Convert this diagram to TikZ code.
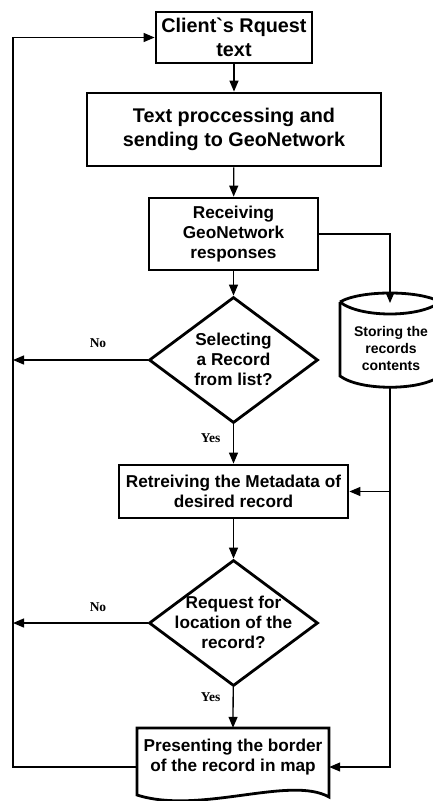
\documentclass[tikz,border=0pt]{standalone}
\usepackage{fontspec}
\newfontfamily\arialfont{Liberation Sans}
\newfontfamily\tmsfont{Liberation Serif}
\usetikzlibrary{shapes.geometric,arrows.meta}
\begin{document}
\begin{tikzpicture}[x=1pt,y=-1pt,
  bord/.style={line width=2.8pt, line join=miter},
  box/.style={draw, bord, inner sep=0pt, align=center, font=\arialfont\bfseries\fontsize{17.2}{20}\selectfont},
  bigbox/.style={box, font=\arialfont\bfseries\fontsize{19.8}{24}\selectfont},
  dia/.style={draw, bord, shape=diamond, inner sep=0pt, minimum width=169pt, minimum height=126pt},
  txt/.style={inner sep=0pt, align=center, font=\arialfont\bfseries\fontsize{17.2}{20}\selectfont},
  smalltxt/.style={inner sep=0pt, align=center, font=\arialfont\bfseries\fontsize{14}{17}\selectfont},
  lab/.style={inner sep=0pt, font=\tmsfont\bfseries\fontsize{13.5}{15}\selectfont},
  conn/.style={line width=1.3pt, -{Triangle[length=11pt,width=9pt]}}
]
\useasboundingbox (0,0) rectangle (432,801);

% nodes
\node[bigbox, minimum width=156pt, minimum height=51pt] (b1) at (234,37.5) {Client`s Rquest\\text};
\node[bigbox, minimum width=294pt, minimum height=73pt] (b2) at (234,129.5) {Text proccessing and\\sending to GeoNetwork};
\node[box, minimum width=169pt, minimum height=72pt] (b3) at (233.5,234) {Receiving\\GeoNetwork\\responses};
\node[dia] (d1) at (233.5,360) {};
\node[txt] (d1t) at (233.5,359) {Selecting\\a Record\\from list?};
\node[box, minimum width=229pt, minimum height=53pt] (b4) at (233.5,491.5) {Retreiving the Metadata of\\desired record};
\node[dia] (d2) at (233.5,623) {};
\node[txt] (d2t) at (233.5,622) {Request for\\location of the\\record?};
\node[inner sep=0pt, minimum width=192pt, minimum height=58pt] (doc) at (233,757) {};
\node[txt] (doct) at (233,757) {Presenting the border\\of the record in map};

% document shape outline
\draw[bord] (137,728) -- (329,728) -- (329,797) .. controls (290,775) and (200,815) .. (137,795) -- cycle;

% cylinder (store)
\node[inner sep=0pt, minimum width=100pt, minimum height=94pt] (store) at (390,340) {};
\draw[bord] (340,302) .. controls (360,290) and (420,290) .. (440,302);
\draw[bord] (340,302) .. controls (360,318) and (420,318) .. (440,302);
\draw[bord] (340,302) -- (340,376) .. controls (360,391) and (420,391) .. (440,376) -- (440,302);
\node[smalltxt] (storet) at (391,348) {Storing the\\records\\contents};

% coordinates
\coordinate (storetop) at (390,303);
\coordinate (loop) at (13,767);
\coordinate (br) at (store.south |- b4.east);

% connectors
\draw[conn] (b1) -- (b2);
\draw[conn] (b2) -- (b3);
\draw[conn] (b3) -- (d1);
\draw[conn] (b3.east) -| (storetop);
\draw[conn] (d1.west) -- (d1.west -| loop);
\draw[conn] (d1) -- (b4);
\draw[conn] (store.south) |- ([yshift=-10pt]doc.east);
\draw[conn] (br) -- (b4.east);
\draw[conn] (b4) -- (d2);
\draw[conn] (d2.west) -- (d2.west -| loop);
\draw[conn] (d2) -- (doc.north);
\draw[conn] ([yshift=-10pt]doc.west) -- (loop) |- (b1.west);

% labels
\node[lab] (no1) at (98,343) {No};
\node[lab] (yes1) at (210.5,438) {Yes};
\node[lab] (no2) at (98,607) {No};
\node[lab] (yes2) at (210.5,697) {Yes};
\end{tikzpicture}
\end{document}
